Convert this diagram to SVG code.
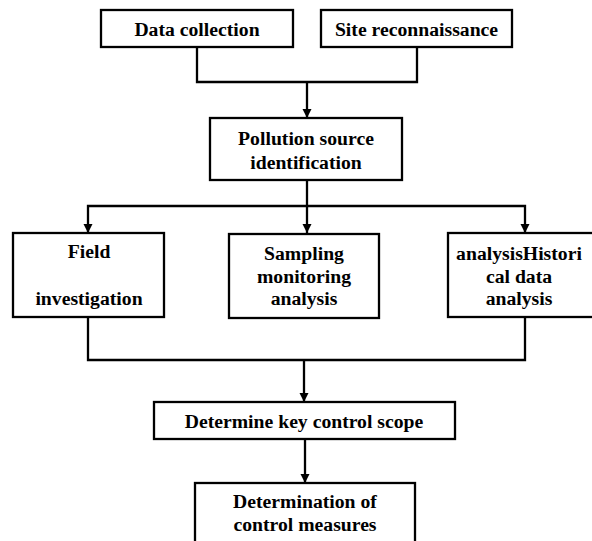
<svg xmlns="http://www.w3.org/2000/svg" width="592" height="541" viewBox="0 0 592 541">
<defs>
<style>
.box{fill:#fff;stroke:#000;stroke-width:2.3}
.t{font-family:"Liberation Serif","Times New Roman",serif;font-weight:bold;font-size:19.7px;fill:#000;text-anchor:middle}
.ln{fill:none;stroke:#000;stroke-width:2.3}
</style>
<marker id="ah" markerUnits="userSpaceOnUse" markerWidth="10" markerHeight="10" refX="9" refY="4.5" orient="auto" viewBox="0 0 10 10">
<path d="M0,0 L9,4.5 L0,9 z" fill="#000"/>
</marker>
</defs>
<rect width="592" height="541" fill="#fff"/>
<g id="connectors">
<path class="ln" d="M197,47 V82 H417 V47"/>
<path class="ln" d="M307,82 V118" marker-end="url(#ah)"/>
<path class="ln" d="M307,180 V206"/>
<path class="ln" d="M307,206 H88 V233" marker-end="url(#ah)"/>
<path class="ln" d="M307,206 H525 V233" marker-end="url(#ah)"/>
<path class="ln" d="M307,206 V233" marker-end="url(#ah)"/>
<path class="ln" d="M88,317 V360 H525 V317"/>
<path class="ln" d="M304,360 V402" marker-end="url(#ah)"/>
<path class="ln" d="M305,439 V483" marker-end="url(#ah)"/>
</g>
<g id="data-collection">
<rect class="box" x="101" y="10" width="192" height="37"/>
<text class="t" x="197" y="35.5">Data collection</text>
</g>
<g id="site-reconnaissance">
<rect class="box" x="321" y="10" width="191" height="37"/>
<text class="t" x="416.5" y="35.5">Site reconnaissance</text>
</g>
<g id="pollution-source">
<rect class="box" x="210" y="118" width="192" height="62"/>
<text class="t" x="306" y="144.5">Pollution source</text>
<text class="t" x="306" y="168.5">identification</text>
</g>
<g id="field-investigation">
<rect class="box" x="13" y="233" width="151" height="84"/>
<text class="t" x="89" y="257.5">Field</text>
<text class="t" x="89" y="305">investigation</text>
</g>
<g id="sampling">
<rect class="box" x="229" y="234" width="150" height="84"/>
<text class="t" x="304" y="260">Sampling</text>
<text class="t" x="304" y="283">monitoring</text>
<text class="t" x="304" y="305">analysis</text>
</g>
<g id="historical">
<rect class="box" x="448" y="233" width="160" height="84"/>
<text class="t" x="519" y="260">analysisHistori</text>
<text class="t" x="519" y="283">cal data</text>
<text class="t" x="519" y="305">analysis</text>
</g>
<g id="key-control-scope">
<rect class="box" x="154" y="402" width="301" height="37"/>
<text class="t" x="304" y="428">Determine key control scope</text>
</g>
<g id="control-measures">
<rect class="box" x="195" y="483" width="220" height="70"/>
<text class="t" x="305" y="508">Determination of</text>
<text class="t" x="305" y="531">control measures</text>
</g>
</svg>
